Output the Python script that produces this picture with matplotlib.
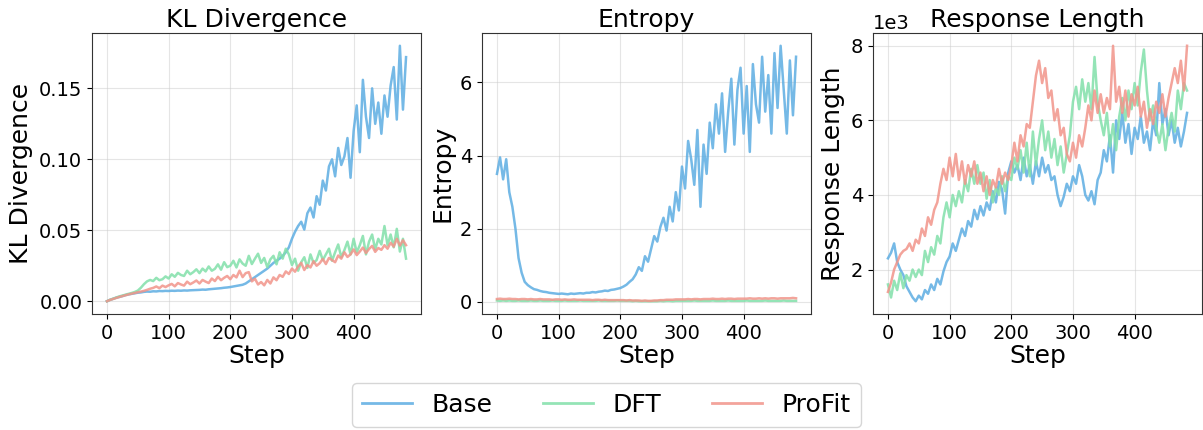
"""Training dynamics: KL divergence, entropy and response length for three methods."""
import matplotlib
matplotlib.use("Agg")
import matplotlib.pyplot as plt
import numpy as np

# ── Data (sampled every 5 steps) ──────────────────────────────────────────────
steps = np.arange(0, 486, 5)

kl_base = [
    0.000, 0.0010, 0.0017, 0.0025, 0.0030, 0.0036, 0.0043, 0.0048, 0.0052, 0.0056,
    0.0060, 0.0062, 0.0066, 0.0068, 0.0067, 0.0070, 0.0069, 0.0072, 0.0071, 0.0073,
    0.0072, 0.0074, 0.0073, 0.0075, 0.0074, 0.0076, 0.0075, 0.0077, 0.0078, 0.0079,
    0.0080, 0.0082, 0.0081, 0.0084, 0.0086, 0.0088, 0.0090, 0.0092, 0.0095, 0.0097,
    0.0100, 0.0104, 0.0108, 0.0112, 0.0116, 0.0125, 0.0140, 0.0155, 0.0170, 0.0185,
    0.0200, 0.0215, 0.0230, 0.0250, 0.0270, 0.0285, 0.0300, 0.0320, 0.0345, 0.0380,
    0.0440, 0.0490, 0.0530, 0.0560, 0.0505, 0.0620, 0.0660, 0.0590, 0.0740, 0.0680,
    0.0850, 0.0780, 0.0950, 0.1000, 0.0880, 0.1080, 0.0960, 0.1020, 0.1150, 0.0870,
    0.1200, 0.1380, 0.1050, 0.1560, 0.1300, 0.1150, 0.1500, 0.1250, 0.1400, 0.1180,
    0.1450, 0.1300, 0.1520, 0.1650, 0.1280, 0.1800, 0.1350, 0.1720,
]
kl_dft = [
    0.000, 0.0010, 0.0018, 0.0026, 0.0034, 0.0040, 0.0046, 0.0052, 0.0058, 0.0065,
    0.0075, 0.0095, 0.0120, 0.0140, 0.0150, 0.0142, 0.0165, 0.0148, 0.0155, 0.0175,
    0.0160, 0.0190, 0.0172, 0.0200, 0.0185, 0.0178, 0.0215, 0.0190, 0.0205, 0.0225,
    0.0198, 0.0230, 0.0210, 0.0245, 0.0215, 0.0228, 0.0260, 0.0222, 0.0275, 0.0240,
    0.0250, 0.0285, 0.0238, 0.0295, 0.0265, 0.0250, 0.0320, 0.0262, 0.0300, 0.0335,
    0.0270, 0.0305, 0.0240, 0.0295, 0.0320, 0.0260, 0.0345, 0.0300, 0.0370, 0.0330,
    0.0255, 0.0300, 0.0215, 0.0275, 0.0310, 0.0235, 0.0330, 0.0270, 0.0290, 0.0355,
    0.0290, 0.0330, 0.0370, 0.0285, 0.0345, 0.0400, 0.0310, 0.0360, 0.0420, 0.0330,
    0.0440, 0.0345, 0.0395, 0.0460, 0.0330, 0.0420, 0.0470, 0.0365, 0.0440, 0.0400,
    0.0530, 0.0395, 0.0470, 0.0380, 0.0510, 0.0350, 0.0440, 0.0300,
]
kl_profit = [
    0.000, 0.0009, 0.0016, 0.0023, 0.0030, 0.0036, 0.0042, 0.0048, 0.0053, 0.0058,
    0.0063, 0.0068, 0.0073, 0.0080, 0.0088, 0.0094, 0.0104, 0.0092, 0.0110, 0.0100,
    0.0112, 0.0122, 0.0105, 0.0128, 0.0118, 0.0110, 0.0138, 0.0120, 0.0132, 0.0146,
    0.0125, 0.0150, 0.0138, 0.0128, 0.0160, 0.0142, 0.0172, 0.0148, 0.0165, 0.0178,
    0.0155, 0.0185, 0.0168, 0.0215, 0.0170, 0.0198, 0.0205, 0.0140, 0.0158, 0.0118,
    0.0135, 0.0112, 0.0150, 0.0125, 0.0168, 0.0148, 0.0185, 0.0172, 0.0210, 0.0192,
    0.0230, 0.0208, 0.0245, 0.0270, 0.0220, 0.0255, 0.0238, 0.0282, 0.0250, 0.0268,
    0.0298, 0.0262, 0.0305, 0.0290, 0.0275, 0.0322, 0.0300, 0.0345, 0.0312, 0.0330,
    0.0365, 0.0325, 0.0350, 0.0378, 0.0340, 0.0368, 0.0390, 0.0348, 0.0375, 0.0362,
    0.0395, 0.0370, 0.0412, 0.0385, 0.0440, 0.0392, 0.0430, 0.0395,
]

ent_base = [
    3.50, 3.95, 3.35, 3.90, 3.00, 2.60, 2.00, 1.20, 0.80, 0.55,
    0.46, 0.40, 0.35, 0.33, 0.30, 0.28, 0.27, 0.25, 0.24, 0.23,
    0.22, 0.23, 0.22, 0.21, 0.23, 0.22, 0.23, 0.24, 0.23, 0.25,
    0.25, 0.27, 0.26, 0.28, 0.29, 0.31, 0.30, 0.33, 0.34, 0.36,
    0.38, 0.42, 0.47, 0.55, 0.62, 0.75, 0.95, 0.85, 1.25, 1.10,
    1.45, 1.80, 1.65, 2.05, 2.30, 1.95, 2.60, 2.20, 3.00, 2.50,
    3.70, 3.10, 4.40, 3.90, 3.20, 4.70, 2.60, 4.30, 3.50, 4.90,
    4.20, 5.40, 4.60, 5.70, 4.10, 5.20, 6.10, 4.30, 5.80, 6.40,
    4.60, 5.90, 4.10, 6.50, 5.40, 4.90, 6.70, 5.20, 6.20, 4.60,
    6.80, 5.30, 7.00, 5.80, 4.60, 6.60, 5.10, 6.70,
]
ent_dft = [
    0.04, 0.03, 0.04, 0.03, 0.04, 0.03, 0.03, 0.04, 0.03, 0.03,
    0.03, 0.04, 0.03, 0.03, 0.04, 0.03, 0.03, 0.03, 0.04, 0.03,
    0.03, 0.03, 0.04, 0.03, 0.03, 0.03, 0.03, 0.04, 0.03, 0.03,
    0.03, 0.03, 0.03, 0.04, 0.03, 0.03, 0.03, 0.03, 0.03, 0.04,
    0.03, 0.03, 0.03, 0.03, 0.02, 0.03, 0.02, 0.02, 0.02, 0.02,
    0.02, 0.02, 0.02, 0.03, 0.02, 0.03, 0.03, 0.02, 0.03, 0.03,
    0.03, 0.03, 0.03, 0.03, 0.04, 0.03, 0.03, 0.03, 0.03, 0.03,
    0.04, 0.03, 0.03, 0.03, 0.03, 0.04, 0.03, 0.03, 0.03, 0.03,
    0.03, 0.04, 0.03, 0.03, 0.03, 0.03, 0.03, 0.04, 0.03, 0.03,
    0.03, 0.03, 0.03, 0.04, 0.03, 0.03, 0.03, 0.03,
]
ent_profit = [
    0.08, 0.09, 0.08, 0.08, 0.09, 0.08, 0.08, 0.07, 0.08, 0.08,
    0.07, 0.08, 0.07, 0.07, 0.08, 0.07, 0.07, 0.07, 0.06, 0.07,
    0.07, 0.06, 0.07, 0.06, 0.06, 0.07, 0.06, 0.06, 0.06, 0.06,
    0.06, 0.05, 0.06, 0.06, 0.05, 0.06, 0.05, 0.05, 0.05, 0.05,
    0.05, 0.05, 0.04, 0.05, 0.04, 0.04, 0.04, 0.03, 0.04, 0.03,
    0.03, 0.04, 0.04, 0.05, 0.05, 0.06, 0.06, 0.06, 0.07, 0.07,
    0.07, 0.07, 0.08, 0.07, 0.08, 0.08, 0.07, 0.08, 0.08, 0.08,
    0.09, 0.08, 0.08, 0.09, 0.08, 0.09, 0.09, 0.08, 0.09, 0.09,
    0.09, 0.09, 0.10, 0.09, 0.09, 0.10, 0.09, 0.10, 0.09, 0.10,
    0.10, 0.09, 0.10, 0.10, 0.10, 0.10, 0.11, 0.10,
]

len_base = [
    2300, 2450, 2700, 2200, 2000, 1850, 1550, 1400, 1250, 1150,
    1300, 1200, 1450, 1350, 1600, 1450, 1750, 1600, 1950, 2200,
    2350, 2700, 2500, 2800, 3100, 2900, 3300, 3150, 3600, 3350,
    3700, 3450, 3800, 3600, 4100, 3800, 4350, 4150, 3500, 4600,
    4900, 4600, 4800, 4400, 5000, 4500, 4800, 4300, 4900, 4500,
    5000, 4600, 4800, 4400, 4500, 4000, 3700, 3950, 4300, 4100,
    4500, 4300, 4800, 4500, 4000, 3850, 4100, 3750, 4400, 4600,
    5200, 4900, 5600, 4600, 6000, 5500, 6200, 5400, 5900, 5100,
    5800, 5500, 6100, 5400, 5700, 5200, 6000, 5600, 7000, 5900,
    6300, 5600, 6000, 5400, 5800, 5300, 5700, 6200,
]
len_dft = [
    1600, 1250, 1700, 1450, 1900, 1500, 1850, 1700, 2000, 1800,
    2000, 1850, 2500, 2200, 2600, 2400, 2900, 2700, 3400, 3800,
    3400, 4000, 3700, 4100, 3800, 4400, 4100, 4700, 4300, 4800,
    4300, 4600, 3900, 4400, 3800, 4200, 4000, 4500, 4100, 4500,
    4400, 5000, 4700, 5200, 4600, 5400, 4500, 5700, 4800, 5500,
    6000, 5200, 5700, 5000, 5500, 4800, 5300, 4600, 5100, 5600,
    6500, 6900, 6300, 7100, 6500, 7000, 6300, 7700, 6500, 6000,
    5600, 6200, 5300, 5900, 5200, 6100, 6600, 6000, 6800, 6300,
    7000, 6400, 7300, 7900, 6800, 6000, 6400, 5800, 5400, 5900,
    5200, 5800, 6200, 5700, 6800, 6300, 7000, 6800,
]
len_profit = [
    1400, 1650, 2000, 2200, 2400, 2500, 2550, 2700, 2500, 2800,
    2700, 3100, 2900, 3400, 3200, 3600, 3800, 4300, 4700, 4400,
    5000, 4500, 5100, 4400, 4900, 4300, 4800, 4500, 4900, 4300,
    4600, 4100, 4500, 4000, 4400, 4200, 4700, 4300, 4600, 4400,
    4800, 5400, 4900, 5600, 5300, 5900, 5800, 6500, 7200, 7600,
    7000, 7400, 6600, 6800, 6000, 6300, 5600, 5800, 5100, 4900,
    5400, 5000, 5600, 5300, 5800, 6400, 6000, 6800, 6200, 6700,
    6200, 6600, 6300, 8000, 6500, 6900, 6200, 6800, 6100, 6700,
    6400, 6900, 6100, 6500, 5800, 6300, 5900, 6500, 6200, 6700,
    6100, 6600, 7000, 7400, 7000, 7600, 6800, 8000,
]

methods = ["Base", "DFT", "ProFit"]
titles = ["KL Divergence", "Entropy", "Response Length"]

# ── Style ─────────────────────────────────────────────────────────────────────
COLORS = {"Base": "#5DADE2", "DFT": "#82E0AA", "ProFit": "#F1948A"}
ALPHA = 0.85
LW = 1.8

panels = [
    {"Base": kl_base, "DFT": kl_dft, "ProFit": kl_profit},
    {"Base": ent_base, "DFT": ent_dft, "ProFit": ent_profit},
    {"Base": len_base, "DFT": len_dft, "ProFit": len_profit},
]

fig = plt.figure(figsize=(12.03, 4.30), dpi=100)
lefts = [92 / 1203, 482 / 1203, 873 / 1203]
width = 329 / 1203
bottom = 1 - 314 / 430
height = (314 - 33) / 430

axes = []
for i, (title, series) in enumerate(zip(titles, panels)):
    ax = fig.add_axes([lefts[i], bottom, width, height])
    for m in methods:
        ax.plot(steps, series[m], color=COLORS[m], lw=LW, alpha=ALPHA, label=m)
    ax.set_title(title, fontsize=18, pad=4)
    ax.set_xlabel("Step", fontsize=18, labelpad=1)
    ax.set_ylabel(title, fontsize=18, labelpad=4)
    ax.tick_params(labelsize=14)
    ax.grid(True, color="#cccccc", alpha=0.5, lw=0.8)
    ax.set_axisbelow(True)
    for s in ax.spines.values():
        s.set_color("#333333")
    ax.set_xticks([0, 100, 200, 300, 400])
    axes.append(ax)

axes[0].set_yticks([0.00, 0.05, 0.10, 0.15])
axes[1].set_yticks([0, 2, 4, 6])
axes[2].ticklabel_format(axis="y", style="sci", scilimits=(3, 3))
axes[2].yaxis.get_offset_text().set_fontsize(14)
axes[2].set_yticks([2000, 4000, 6000, 8000])

handles, labels = axes[0].get_legend_handles_labels()
leg = fig.legend(handles, labels, loc="center", bbox_to_anchor=(0.504, 0.058),
                 ncol=3, fontsize=18, frameon=True)
for h in leg.get_lines():
    h.set_alpha(ALPHA)
    h.set_linewidth(2)

fig.savefig("out.png", dpi=100)
